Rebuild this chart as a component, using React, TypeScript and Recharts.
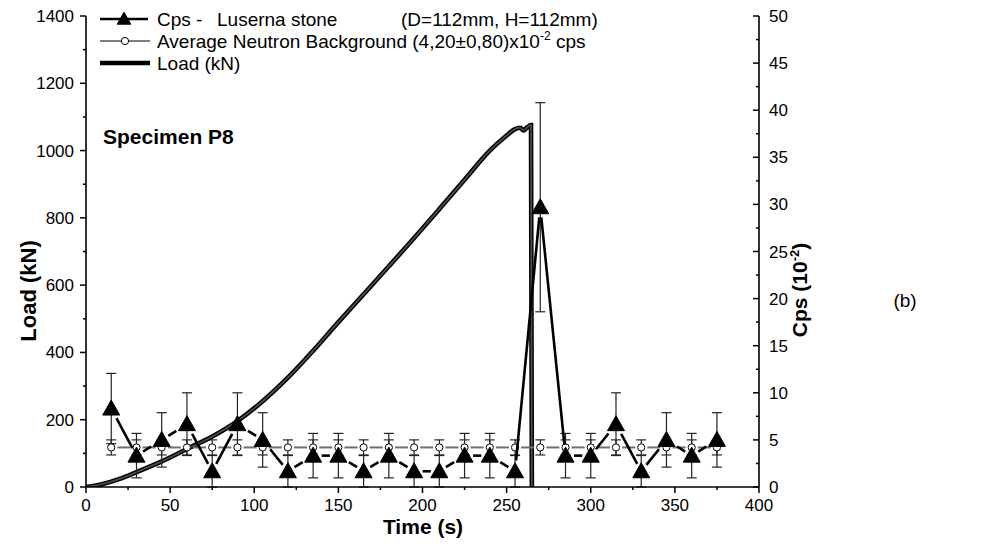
import React from 'react';
import { LineChart, Line, XAxis, YAxis, ErrorBar } from 'recharts';

const FONT = 'Arial, "Liberation Sans", Helvetica, sans-serif';

// Neutron emission, sampled every 15 s (units of 10^-2 cps)
const cpsTime = [15, 30, 45, 60, 75, 90, 105, 120, 135, 150, 165, 180, 195, 210, 225, 240, 255, 270, 285, 300, 315, 330, 345, 360, 375];
const cpsValue = [8.33, 3.33, 5.0, 6.67, 1.67, 6.67, 5.0, 1.67, 3.33, 3.33, 1.67, 3.33, 1.67, 1.67, 3.33, 3.33, 1.67, 29.7, 3.33, 3.33, 6.67, 1.67, 5.0, 3.33, 5.0];
const cpsError = [3.73, 2.36, 2.89, 3.33, 1.67, 3.33, 2.89, 1.67, 2.36, 2.36, 1.67, 2.36, 1.67, 1.67, 2.36, 2.36, 1.67, 11.1, 2.36, 2.36, 3.33, 1.67, 2.89, 2.36, 2.89];

// Average neutron background (4.20 ± 0.80) x10^-2 cps
const bgValue = [4.2, 4.2, 4.2, 4.2, 4.2, 4.2, 4.2, 4.2, 4.2, 4.2, 4.2, 4.2, 4.2, 4.2, 4.2, 4.2, 4.2, 4.2, 4.2, 4.2, 4.2, 4.2, 4.2, 4.2, 4.2];
const bgError = [0.8, 0.8, 0.8, 0.8, 0.8, 0.8, 0.8, 0.8, 0.8, 0.8, 0.8, 0.8, 0.8, 0.8, 0.8, 0.8, 0.8, 0.8, 0.8, 0.8, 0.8, 0.8, 0.8, 0.8, 0.8];

// Compression load history (kN)
const loadTime = [0, 10, 20, 30, 45, 60, 75, 90, 105, 120, 135, 150, 165, 180, 195, 210, 225, 240, 250, 255, 258, 260, 262, 264.5, 265];
const loadValue = [0, 9, 24, 44, 76, 113, 150, 196, 255, 325, 405, 490, 573, 656, 740, 826, 913, 1000, 1045, 1064, 1068, 1060, 1068, 1076, 0];

const timeTicks = [0, 25, 50, 75, 100, 125, 150, 175, 200, 225, 250, 275, 300, 325, 350, 375, 400];
const loadTicks = [0, 100, 200, 300, 400, 500, 600, 700, 800, 900, 1000, 1100, 1200, 1300, 1400];
const cpsTicks = [0, 2.5, 5, 7.5, 10, 12.5, 15, 17.5, 20, 22.5, 25, 27.5, 30, 32.5, 35, 37.5, 40, 42.5, 45, 47.5, 50];

const cpsRows = cpsTime.map((t, i) => ({ t, cps: cpsValue[i], err: cpsError[i] }));
const bgRows = cpsTime.map((t, i) => ({ t, bg: bgValue[i], err: bgError[i] }));
const loadRows = loadTime.map((t, i) => ({ t, load: loadValue[i] }));

// Triangle marker geometry (relative to its centre)
const TRI_W = 17;
const TRI_UP = 8.5;
const TRI_DN = 6.5;
const CIRCLE_R = 3.6;

const insideTri = (px: number, py: number) => {
  if (py > TRI_DN || py < -TRI_UP) return false;
  const hw = ((py + TRI_UP) / (TRI_UP + TRI_DN)) * (TRI_W / 2);
  return Math.abs(px) <= hw;
};

const triExit = (ux: number, uy: number) => {
  let s = 0;
  while (s < 30 && insideTri(ux * s, uy * s)) s += 0.25;
  return s;
};

const Triangle = ({ cx, cy, scale = 1 }: { cx: number; cy: number; scale?: number }) => (
  <polygon
    points={`${cx},${cy - TRI_UP * scale} ${cx + (TRI_W / 2) * scale},${cy + TRI_DN * scale} ${cx - (TRI_W / 2) * scale},${cy + TRI_DN * scale}`}
    fill="#000"
    stroke="#000"
    strokeWidth={1}
    strokeLinejoin="miter"
  />
);

const Circle = ({ cx, cy }: { cx: number; cy: number }) => (
  <circle cx={cx} cy={cy} r={CIRCLE_R} fill="#fff" stroke="#000" strokeWidth={1} />
);

// Markers that also draw the connecting segment from the previous point,
// leaving a small gap around each symbol.
function makeMarkers(kind: 'tri' | 'circle') {
  const seen: Record<number, { x: number; y: number }> = {};
  const GAP = kind === 'tri' ? 3.5 : 2.5;
  return (p: any) => {
    const { cx, cy, index } = p;
    if (cx == null || cy == null) return <g key={`${kind}-${index}`} />;
    seen[index] = { x: cx, y: cy };
    const prev = seen[index - 1];
    let seg: React.ReactNode = null;
    if (prev) {
      const dx = cx - prev.x;
      const dy = cy - prev.y;
      const len = Math.hypot(dx, dy);
      if (len > 0) {
        const ux = dx / len;
        const uy = dy / len;
        const a = (kind === 'tri' ? triExit(ux, uy) : CIRCLE_R) + GAP;
        const b = (kind === 'tri' ? triExit(-ux, -uy) : CIRCLE_R) + GAP;
        if (a + b < len) {
          seg = (
            <line
              x1={prev.x + ux * a}
              y1={prev.y + uy * a}
              x2={cx - ux * b}
              y2={cy - uy * b}
              stroke={kind === 'tri' ? '#000' : '#6f6f6f'}
              strokeWidth={kind === 'tri' ? 2.6 : 2}
            />
          );
        }
      }
    }
    return (
      <g key={`${kind}-${index}`}>
        {seg}
        {kind === 'tri' ? <Triangle cx={cx} cy={cy} /> : <Circle cx={cx} cy={cy} />}
      </g>
    );
  };
}

const tickText = { fontFamily: FONT, fontSize: 17, fill: '#000' };

const BottomTick = (props: any) => {
  const { x, y, payload } = props;
  const major = payload.value % 50 === 0;
  return (
    <g>
      <line x1={x} x2={x} y1={y} y2={y + (major ? 6 : 3)} stroke="#000" strokeWidth={1.5} />
      {major && (
        <text x={x} y={y + 24} textAnchor="middle" {...tickText}>
          {payload.value}
        </text>
      )}
    </g>
  );
};

const LeftTick = (props: any) => {
  const { x, y, payload } = props;
  const major = payload.value % 200 === 0;
  return (
    <g>
      <line x1={x - (major ? 6 : 3)} x2={x} y1={y} y2={y} stroke="#000" strokeWidth={1.5} />
      {major && (
        <text x={x - 12} y={y + 6} textAnchor="end" {...tickText}>
          {payload.value}
        </text>
      )}
    </g>
  );
};

const RightTick = (props: any) => {
  const { x, y, payload } = props;
  const major = payload.value % 5 === 0;
  return (
    <g>
      <line x1={x - (major ? 6 : 3)} x2={x} y1={y} y2={y} stroke="#000" strokeWidth={1.5} />
      {major && (
        <text x={x + 10} y={y + 6} textAnchor="start" {...tickText}>
          {payload.value}
        </text>
      )}
    </g>
  );
};

const axisLine = { stroke: '#000', strokeWidth: 1.6 };

export default function App() {
  const cpsMarkers = makeMarkers('tri');
  const bgMarkers = makeMarkers('circle');
  const legendFont = { fontFamily: FONT, fontSize: 19, fill: '#000' };
  const boldFont = { fontFamily: FONT, fontSize: 21, fontWeight: 700, fill: '#000' };

  return (
    <div style={{ position: 'absolute', left: 0, top: 0, width: 984, height: 548, background: '#fff' }}>
      <LineChart width={984} height={548} margin={{ top: 16, right: 165, bottom: 0, left: 0 }}>
        <XAxis
          dataKey="t"
          type="number"
          domain={[0, 400]}
          ticks={timeTicks}
          interval={0}
          height={61}
          tickSize={0}
          tickMargin={0}
          tickLine={false}
          axisLine={axisLine}
          tick={<BottomTick />}
          allowDataOverflow
        />
        <YAxis
          yAxisId="load"
          type="number"
          domain={[0, 1400]}
          ticks={loadTicks}
          interval={0}
          width={86}
          tickSize={0}
          tickMargin={0}
          tickLine={false}
          axisLine={axisLine}
          tick={<LeftTick />}
          allowDataOverflow
        />
        <YAxis
          yAxisId="cps"
          orientation="right"
          type="number"
          domain={[0, 50]}
          ticks={cpsTicks}
          interval={0}
          width={60}
          tickSize={0}
          tickMargin={0}
          tickLine={false}
          axisLine={axisLine}
          tick={<RightTick />}
          allowDataOverflow
        />
        <Line
          yAxisId="cps"
          data={bgRows}
          dataKey="bg"
          stroke="none"
          dot={bgMarkers}
          activeDot={false}
          isAnimationActive={false}
        >
          <ErrorBar dataKey="err" width={5} stroke="#000" strokeWidth={1} direction="y" />
        </Line>
        <Line
          yAxisId="load"
          data={loadRows}
          dataKey="load"
          type="monotone"
          stroke="#000"
          strokeWidth={4.6}
          dot={false}
          activeDot={false}
          isAnimationActive={false}
        />
        <Line
          yAxisId="load"
          data={loadRows}
          dataKey="load"
          type="monotone"
          stroke="#4a4a4a"
          strokeWidth={1.8}
          dot={false}
          activeDot={false}
          isAnimationActive={false}
        />
        <Line
          yAxisId="cps"
          data={cpsRows}
          dataKey="cps"
          stroke="none"
          dot={cpsMarkers}
          activeDot={false}
          isAnimationActive={false}
        >
          <ErrorBar dataKey="err" width={5} stroke="#222" strokeWidth={1.2} direction="y" />
        </Line>
      </LineChart>

      <svg width={984} height={548} style={{ position: 'absolute', left: 0, top: 0, pointerEvents: 'none' }}>
        {/* legend */}
        <line x1={100} x2={148} y1={19} y2={19} stroke="#000" strokeWidth={2.4} />
        <Triangle cx={124} cy={19} scale={0.8} />
        <text y={26} {...legendFont}>
          <tspan x={157}>Cps -</tspan>
          <tspan x={217}>Luserna stone</tspan>
          <tspan x={401}>(D=112mm, H=112mm)</tspan>
        </text>

        <line x1={100} x2={150} y1={41} y2={41} stroke="#000" strokeWidth={1} />
        <Circle cx={125} cy={41} />
        <text x={157} y={48} {...legendFont}>
          Average Neutron Background (4,20±0,80)x10
          <tspan dy={-8} fontSize={12}>-2</tspan>
          <tspan dy={8}> cps</tspan>
        </text>

        <line x1={100} x2={150} y1={63} y2={63} stroke="#000" strokeWidth={4.5} />
        <text x={157} y={70} {...legendFont}>Load (kN)</text>

        <text x={103} y={144} {...boldFont}>Specimen P8</text>

        {/* axis titles */}
        <text x={0} y={0} transform="translate(36,291) rotate(-90)" textAnchor="middle" {...boldFont} fontSize={22}>
          Load (kN)
        </text>
        <text x={0} y={0} transform="translate(807,290) rotate(-90)" textAnchor="middle" {...boldFont}>
          Cps (10<tspan dy={-8} fontSize={13}>-2</tspan><tspan dy={8}>)</tspan>
        </text>
        <text x={423} y={534} textAnchor="middle" {...boldFont}>Time (s)</text>

        <text x={905} y={307} textAnchor="middle" {...legendFont}>(b)</text>
      </svg>
    </div>
  );
}
